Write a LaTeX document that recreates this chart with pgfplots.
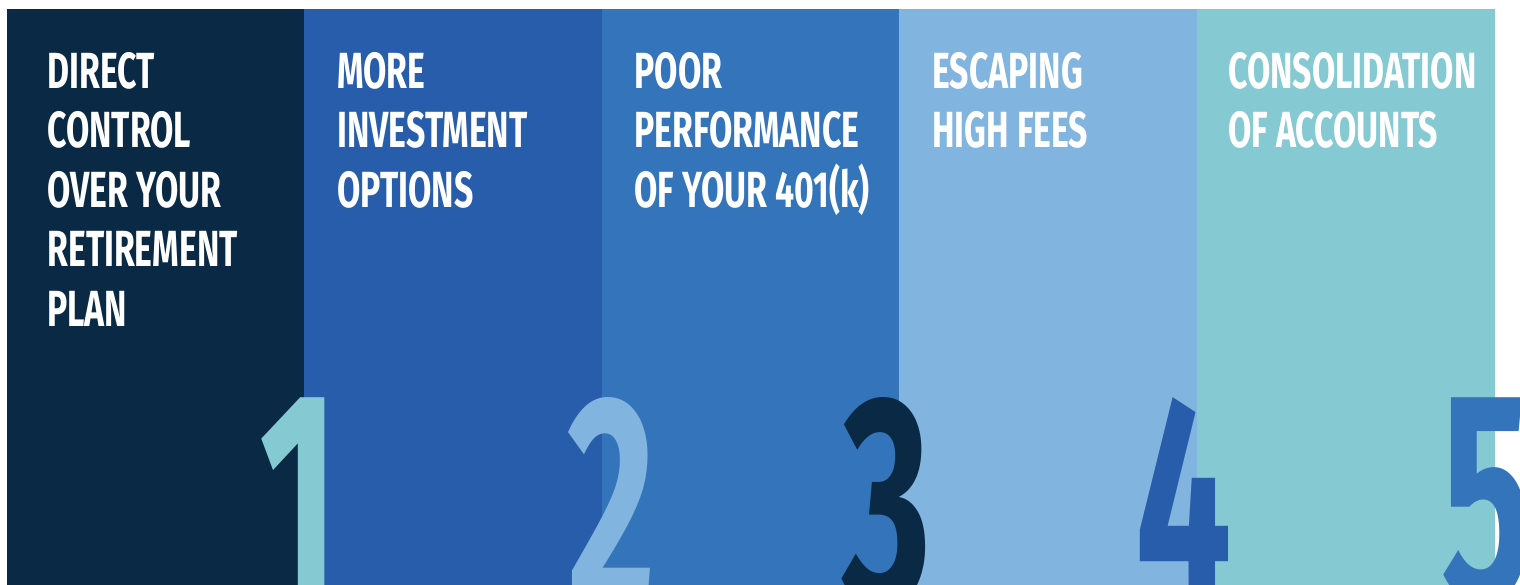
\documentclass[border=0pt]{standalone}
\usepackage{pgfplots}
\pgfplotsset{compat=1.18}
\usepackage{fontspec}
\setmainfont{Fira Sans}[FakeStretch=0.665]
\newfontfamily\digitfont{Fira Sans}[FakeStretch=0.57]
\definecolor{cone}{RGB}{10,41,68}
\definecolor{ctwo}{RGB}{40,93,171}
\definecolor{cthree}{RGB}{52,116,187}
\definecolor{cfour}{RGB}{130,180,224}
\definecolor{cfive}{RGB}{133,201,210}
\begin{document}
\begin{tikzpicture}[
    txt/.style={anchor=north west, inner sep=0pt, align=left, text=white,
        font=\fontsize{25.4}{29.75}\selectfont\bfseries},
    big/.style={anchor=north west, inner sep=0pt,
        font=\digitfont\fontsize{150}{150}\selectfont\bfseries},
]
\clip (0,0) rectangle (760pt,292pt);
\begin{axis}[
    at={(0,0)}, anchor=south west,
    width=760pt, height=292pt, scale only axis,
    xmin=0, xmax=1520, ymin=0, ymax=584,
    y dir=reverse, hide axis, clip=false,
]
% columns: left edge, right edge, top, bottom (pixels)
\addplot[fill=cone, draw=none] coordinates {(7,9) (304,9) (304,600) (7,600)} -- cycle;
\addplot[fill=ctwo, draw=none] coordinates {(304,9) (602,9) (602,600) (304,600)} -- cycle;
\addplot[fill=cthree, draw=none] coordinates {(602,9) (899,9) (899,600) (602,600)} -- cycle;
\addplot[fill=cfour, draw=none] coordinates {(899,9) (1197,9) (1197,600) (899,600)} -- cycle;
\addplot[fill=cfive, draw=none] coordinates {(1197,9) (1495,9) (1495,600) (1197,600)} -- cycle;

\node[txt] at (axis cs:47,52) {DIRECT\\CONTROL\\OVER YOUR\\RETIREMENT\\PLAN};
\node[txt] at (axis cs:337,52) {MORE\\INVESTMENT\\OPTIONS};
\node[txt] at (axis cs:634,52) {POOR\\PERFORMANCE\\OF YOUR 401(k)};
\node[txt] at (axis cs:932,52) {ESCAPING\\HIGH FEES};
\node[txt] at (axis cs:1228,52) {CONSOLIDATION\\OF ACCOUNTS};

\node[big, text=cfive] at (axis cs:259,397) {1};
\node[big, text=cfour] at (axis cs:567,397) {2};
\node[big, text=cone] at (axis cs:842,397) {3};
\node[big, text=ctwo] at (axis cs:1135,397) {4};
\node[big, text=cthree] at (axis cs:1441,397) {5};
\end{axis}
\end{tikzpicture}
\end{document}
